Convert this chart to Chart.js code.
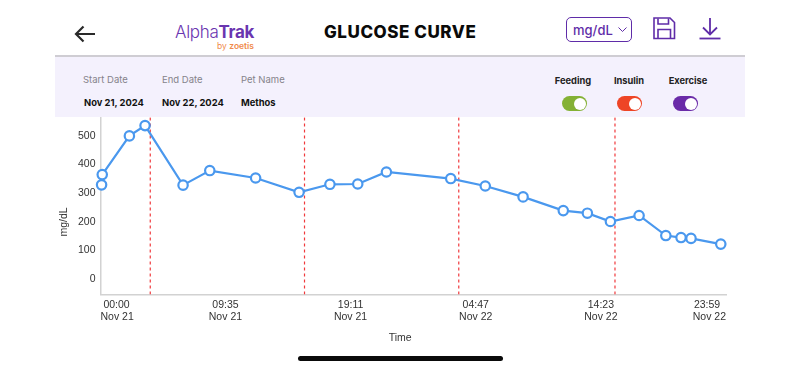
<!DOCTYPE html>
<html>
<head>
<meta charset="utf-8">
<script src="https://cdn.jsdelivr.net/npm/chart.js@4"></script>
<style>
  html, body { margin: 0; padding: 0; background: #fff; }
  body { width: 800px; height: 369px; position: relative; overflow: hidden; font-family: Inter, "Noto Sans", sans-serif; }
  .abs { position: absolute; white-space: nowrap; }
  #panel { position: absolute; left: 55px; top: 55px; width: 690px; height: 62px; background: #f4f1fd; border-top: 2px solid #cfcdd3; box-sizing: border-box; }
  .lbl { font-size: 9.5px; color: #85838b; line-height: 12px; }
  .val { font-size: 9.4px; font-weight: 700; color: #111; line-height: 12px; }
  .tog { font-size: 9.3px; font-weight: 700; color: #222; line-height: 12px; transform: translateX(-50%); }
  .switch { position: absolute; width: 25px; height: 15px; border-radius: 8px; top: 96px; }
  .switch i { position: absolute; right: 1.5px; top: 1.5px; width: 12px; height: 12px; border-radius: 50%; background: #fff; }
  #chartBox { position: absolute; left: 55px; top: 106px; width: 690px; height: 240px; }
  #pill { position: absolute; left: 298px; top: 356px; width: 205px; height: 5px; border-radius: 3px; background: #0a0a0a; }
</style>
</head>
<body>
<svg class="abs" style="left:72px;top:22px" width="26" height="24" viewBox="0 0 26 24" fill="none" stroke="#2a2a2a" stroke-width="2.2">
  <path d="M23 12H4M11.5 4.5L4 12l7.5 7.5"/>
</svg>
<div class="abs" style="left:175px;top:21px;font-size:17px;line-height:22px;color:#6a35b0;letter-spacing:-0.3px;font-weight:300">Alpha<b style="font-weight:700">Trak</b></div>
<div class="abs" style="left:217px;top:40px;font-size:8.5px;line-height:12px;color:#f08a4b">by <b style="font-weight:600">zoetis</b></div>
<div class="abs" style="left:324px;top:21px;font-size:17px;line-height:22px;font-weight:800;letter-spacing:0.55px;color:#0a0a0a">GLUCOSE CURVE</div>

<div class="abs" style="left:566px;top:17px;width:66px;height:25px;box-sizing:border-box;border:1.3px solid #5f2ca8;border-radius:5px"></div>
<div class="abs" style="left:573px;top:22px;font-size:13px;line-height:16px;font-weight:500;color:#5f2ca8">mg/dL</div>
<svg class="abs" style="left:617px;top:26px" width="11" height="8" viewBox="0 0 11 8" fill="none" stroke="#5f2ca8" stroke-width="1"><path d="M1.5 1.5L5.5 5.5L9.5 1.5"/></svg>
<svg class="abs" style="left:652px;top:16px" width="24" height="24" viewBox="0 0 24 24" fill="none" stroke="#5f2ca8" stroke-width="1.6">
  <path d="M2 2H18L22.5 6.5V22.5H2Z"/><path d="M6 2.5V8H16.5V2.5"/><path d="M6 22V13.5H18.5V22"/>
</svg>
<svg class="abs" style="left:698px;top:17px" width="24" height="24" viewBox="0 0 24 24" fill="none" stroke="#5f2ca8" stroke-width="1.8">
  <path d="M12 1V17M5 10.5L12 17.5L19 10.5"/><path d="M1.5 21.5H22.5"/>
</svg>

<div id="panel"></div>
<div class="abs lbl" style="left:83px;top:74px">Start Date</div>
<div class="abs lbl" style="left:162px;top:74px">End Date</div>
<div class="abs lbl" style="left:241px;top:74px">Pet Name</div>
<div class="abs val" style="left:84px;top:97px">Nov 21, 2024</div>
<div class="abs val" style="left:162px;top:97px">Nov 22, 2024</div>
<div class="abs val" style="left:241px;top:97px">Methos</div>
<div class="abs tog" style="left:573px;top:75px">Feeding</div>
<div class="abs tog" style="left:629px;top:75px">Insulin</div>
<div class="abs tog" style="left:688px;top:75px">Exercise</div>
<div class="switch" style="left:562px;background:#84b135"><i></i></div>
<div class="switch" style="left:617px;background:#ee4526"><i></i></div>
<div class="switch" style="left:673px;background:#6a2ba8"><i></i></div>

<div id="chartBox"><canvas id="myChart"></canvas></div>
<div id="pill"></div>

<script>
// minutes since Nov 21 00:00
const readingMinutes = [5, 8, 133, 205, 380, 503, 714, 914, 1056, 1184, 1316, 1612, 1771, 1945, 2130, 2241, 2347, 2479, 2602, 2672, 2718, 2855];
const glucoseValues = [329, 365, 500, 536, 328, 379, 353, 303, 331, 332, 374, 351, 325, 287, 239, 230, 201, 222, 152, 145, 142, 122];
const eventMinutes = [229, 939, 1649, 2368];
const tickMinutes = [0, 575, 1151, 1727, 2303, 2879];
const tickTimes = ['00:00', '09:35', '19:11', '04:47', '14:23', '23:59'];
const tickDays = ['Nov 21', 'Nov 21', 'Nov 21', 'Nov 22', 'Nov 22', 'Nov 22'];
const yTicks = [0, 100, 200, 300, 400, 500];
const yMin = -54;
const yMax = 565;

const axisColor = '#d2d2d2';
const textColor = '#333';
const fontFamily = '"Liberation Sans", Arial, sans-serif';
const nbsp = n => '\u00a0'.repeat(n);

// red dashed event markers, one two-point line each
const eventDatasets = eventMinutes.map(m => ({
  data: [{x: m, y: yMin}, {x: m, y: yMax}],
  borderColor: '#f0393c',
  borderWidth: 1.2,
  borderDash: [3, 3],
  pointRadius: 0,
  order: 2
}));

const glucoseDataset = {
  data: readingMinutes.map((m, i) => ({x: m, y: glucoseValues[i]})),
  borderColor: '#4a98ee',
  borderWidth: 2.2,
  pointRadius: 4.7,
  pointBorderWidth: 2.2,
  pointBackgroundColor: '#fff',
  pointBorderColor: '#4a98ee',
  clip: false,
  order: 1
};

new Chart(document.getElementById('myChart'), {
  type: 'line',
  data: { datasets: eventDatasets.concat([glucoseDataset]) },
  options: {
    responsive: true,
    maintainAspectRatio: false,
    animation: false,
    layout: { padding: { right: 19, top: 0, bottom: 0 } },
    plugins: { legend: { display: false }, tooltip: { enabled: false } },
    scales: {
      x: {
        type: 'linear',
        min: tickMinutes[0],
        max: tickMinutes[tickMinutes.length - 1],
        grid: { display: false, drawTicks: false },
        border: { color: axisColor, width: 1.5 },
        afterBuildTicks: axis => { axis.ticks = tickMinutes.map(v => ({value: v})); },
        afterFit: axis => { axis.height = 51.5; },
        ticks: {
          autoSkip: false,
          maxRotation: 0,
          align: 'inner',
          padding: 4,
          color: textColor,
          font: { size: 10.5, family: fontFamily },
          callback: (v, i) => {
            // nudge the two end labels so both lines look centred
            if (i === 0) return [nbsp(1) + tickTimes[i], tickDays[i]];
            if (i === tickTimes.length - 1) return [tickTimes[i] + nbsp(2), tickDays[i]];
            return [tickTimes[i], tickDays[i]];
          }
        },
        // trailing spaces pull the title back to the middle of the page
        title: { display: true, text: 'Time' + nbsp(9), color: textColor, padding: { top: 0, bottom: 2 }, font: { size: 10.5, family: fontFamily } }
      },
      y: {
        min: yMin,
        max: yMax,
        grid: { display: false, drawTicks: false },
        border: { color: axisColor, width: 1.5 },
        afterBuildTicks: axis => { axis.ticks = yTicks.map(v => ({value: v})); },
        afterFit: axis => { axis.width = 45.5; },
        ticks: { padding: 5, color: textColor, font: { size: 10.5, family: fontFamily } },
        // same trick, the label sits below the middle of the axis
        title: { display: true, text: 'mg/dL' + nbsp(11), color: textColor, padding: { top: 3, bottom: 0 }, font: { size: 10.5, family: fontFamily } }
      }
    }
  }
});
</script>
</body>
</html>
